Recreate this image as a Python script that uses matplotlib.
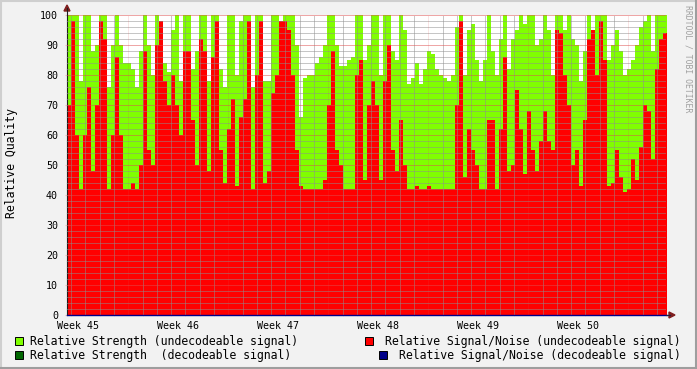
import numpy as np
import matplotlib
matplotlib.use("Agg")
import matplotlib.pyplot as plt
from matplotlib.patches import Rectangle, Polygon
from matplotlib.lines import Line2D
from matplotlib.transforms import Affine2D

W, H = 697, 369
STEP_DAYS = 0.28          # one sample per ~6.7 h
FIRST_WEEK_LINE = 4.29    # days from left edge to first weekly grid line
FIRST_DAY_LINE = 0.29

week_labels = ["Week 45", "Week 46", "Week 47", "Week 48", "Week 49", "Week 50"]

# Relative strength (undecodeable signal)
strength_undec = [
    100, 100, 100, 78, 100, 100, 88, 90, 100, 100,
    76, 90, 100, 90, 84, 84, 82, 76, 88, 100,
    90, 80, 100, 95, 84, 81, 95, 100, 78, 100,
    100, 82, 88, 100, 100, 78, 100, 100, 82, 76,
    100, 100, 80, 98, 100, 100, 76, 100, 100, 78,
    78, 100, 100, 95, 100, 100, 100, 90, 66, 79,
    80, 80, 84, 86, 90, 100, 100, 90, 83, 83,
    85, 86, 100, 100, 85, 90, 100, 100, 80, 100,
    100, 88, 85, 100, 95, 77, 79, 84, 77, 82,
    88, 87, 82, 80, 79, 78, 80, 96, 100, 80,
    95, 97, 85, 78, 85, 100, 88, 80, 92, 100,
    82, 92, 95, 100, 97, 100, 100, 90, 92, 100,
    95, 80, 100, 100, 95, 100, 92, 90, 78, 88,
    100, 95, 100, 100, 100, 85, 90, 95, 88, 80,
    82, 85, 90, 96, 98, 100, 88, 100, 100, 100,
]

# Relative signal/noise (undecodeable signal)
snr_undec = [
    70, 98, 60, 42, 60, 76, 48, 70, 98, 92,
    42, 60, 86, 60, 42, 42, 44, 42, 50, 88,
    55, 50, 90, 98, 78, 70, 80, 70, 60, 88,
    88, 65, 50, 92, 88, 48, 86, 98, 55, 44,
    62, 72, 43, 66, 72, 98, 42, 80, 98, 44,
    48, 74, 80, 98, 98, 95, 80, 55, 43, 42,
    42, 42, 42, 42, 45, 70, 88, 55, 50, 42,
    42, 42, 80, 85, 45, 70, 78, 70, 45, 78,
    90, 55, 48, 65, 50, 42, 42, 43, 42, 42,
    43, 42, 42, 42, 42, 42, 42, 70, 98, 46,
    62, 55, 50, 42, 42, 65, 65, 42, 62, 86,
    48, 50, 75, 62, 47, 68, 55, 48, 58, 68,
    58, 55, 95, 94, 80, 70, 50, 55, 43, 65,
    92, 95, 80, 98, 85, 43, 44, 55, 46, 41,
    42, 52, 45, 56, 70, 68, 52, 82, 92, 94,
]

# decodeable series stay at zero over the whole period
strength_dec = [0] * len(strength_undec)
snr_dec = [0] * len(snr_undec)

C_STR_UNDEC = "#80FF00"
C_SNR_UNDEC = "#FF0000"
C_STR_DEC = "#006600"
C_SNR_DEC = "#000088"
MONO = "DejaVu Sans Mono"

fig = plt.figure(figsize=(W / 100, H / 100), dpi=100)
fig.patch.set_facecolor("#F2F2F2")
px = Affine2D().scale(1, -1).translate(0, H)   # pixel coords, origin top-left

ax = fig.add_axes([67 / W, 1 - 315 / H, 599 / W, 300 / H])
ax.set_facecolor("white")

n = len(strength_undec)
x = np.arange(n + 1) * STEP_DAYS


def ext(vals):
    return np.append(vals, vals[-1])


ax.fill_between(x, 0, ext(strength_undec), step="post", color=C_STR_UNDEC, lw=0, zorder=1)
ax.fill_between(x, 0, ext(snr_undec), step="post", color=C_SNR_UNDEC, lw=0, zorder=1.1)
ax.fill_between(x, 0, ext(strength_dec), step="post", color=C_STR_DEC, lw=0, zorder=1.2)
ax.step(x, ext(snr_dec), where="post", color=C_SNR_DEC, lw=1.0, zorder=4, clip_on=False)

x_max = 599 / (100 / 7)
ax.set_xlim(0, x_max)
ax.set_ylim(0, 100)

# grid: daily minor + weekly major on x, 2-unit minor + 10-unit major on y
dots = (0, (1, 1))
minor_col = (0.56, 0.56, 0.56, 0.2)
major_col = (0.87, 0.31, 0.31, 0.3)
week_lines = FIRST_WEEK_LINE + 7 * np.arange(6)
day_lines = [d for d in FIRST_DAY_LINE + np.arange(42) if d < x_max and
             np.min(np.abs(week_lines - d)) > 0.1]
label_pos = FIRST_WEEK_LINE - 3.5 + 7 * np.arange(len(week_labels))

ax.set_xticks(label_pos, week_labels)
ax.set_xticks(day_lines, minor=True)
ax.set_yticks(range(0, 101, 10))
ax.set_yticks(range(0, 101, 2), minor=True)
ax.grid(axis="x", which="minor", color=minor_col, ls=dots, lw=0.72)
ax.grid(axis="y", which="minor", color=minor_col, ls=dots, lw=0.72)
ax.grid(axis="y", which="major", color=major_col, ls=dots, lw=0.72)
for wl in week_lines:
    ax.axvline(wl, color=major_col, ls=dots, lw=0.72, zorder=2.6)
ax.set_axisbelow(False)

ax.tick_params(axis="x", which="major", length=0, pad=4, labelsize=7.2)
ax.tick_params(axis="x", which="minor", length=2, color=minor_col, direction="inout")
ax.tick_params(axis="y", which="major", length=3, color=major_col, direction="inout",
               pad=5, labelsize=7.2)
ax.tick_params(axis="y", which="minor", length=2, color=minor_col, direction="inout")
for lab in ax.get_xticklabels() + ax.get_yticklabels():
    lab.set_family(MONO)

for s in ["top", "right", "bottom"]:
    ax.spines[s].set_visible(False)
ax.spines["left"].set_color("#1F1F1F")
ax.spines["left"].set_linewidth(0.8)

# axis extensions and arrow heads (rrdtool style)
fig.add_artist(Line2D([67, 67], [15, 8], color="#1F1F1F", lw=0.8, transform=px))
fig.add_artist(Line2D([666, 670], [315, 315], color="#1F1F40", lw=0.8, transform=px))
fig.add_artist(Polygon([(64, 11), (70, 11), (67, 5)], closed=True,
                       color="#7F1F1F", transform=px))
fig.add_artist(Polygon([(669, 312), (669, 318), (675, 315)], closed=True,
                       color="#7F1F1F", transform=px))

# frame shading
fig.add_artist(Line2D([0, W], [0.5, 0.5], color="#CFCFCF", lw=1.5, transform=px))
fig.add_artist(Line2D([0.5, 0.5], [0, H], color="#CFCFCF", lw=1.5, transform=px))
fig.add_artist(Line2D([0, W], [H - 1, H - 1], color="#9E9E9E", lw=1.5, transform=px))
fig.add_artist(Line2D([W - 1, W - 1], [0, H], color="#9E9E9E", lw=1.5, transform=px))

fig.text(12 / W, 1 - 163 / H, "Relative Quality", rotation=90, ha="center", va="center",
         family=MONO, fontsize=8.3)
fig.text(688 / W, 1 - 59 / H, "RRDTOOL / TOBI OETIKER", rotation=270, ha="center",
         va="center", family=MONO, fontsize=5.9, color="#A0A0A0")

# legend: left column left-aligned, right column right-aligned (rrdtool justify)
legend_items = [
    (15, 341, C_STR_UNDEC, "Relative Strength (undecodeable signal)", "left"),
    (365, 341, C_SNR_UNDEC, "Relative Signal/Noise (undecodeable signal)", "right"),
    (15, 355, C_STR_DEC, "Relative Strength  (decodeable signal)", "left"),
    (379, 355, C_SNR_DEC, "Relative Signal/Noise (decodeable signal)", "right"),
]
for bx, by, col, label, align in legend_items:
    fig.add_artist(Rectangle((bx, by + 4), 8, -8, facecolor=col, edgecolor="black",
                             lw=0.7, transform=px))
    tx = bx + 15 if align == "left" else 681
    fig.text(tx / W, 1 - by / H, label, ha=align, va="center",
             family=MONO, fontsize=8.3)

fig.savefig("out.png", dpi=100, facecolor=fig.get_facecolor())
